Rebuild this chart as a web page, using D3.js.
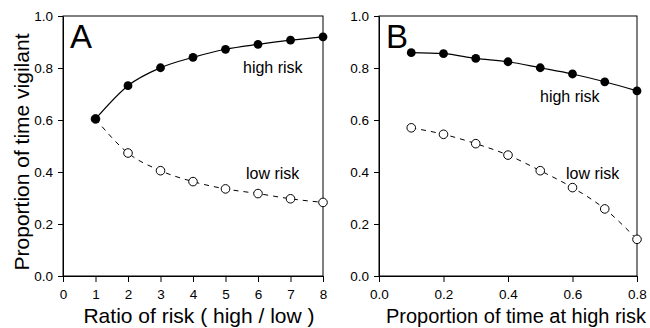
<!DOCTYPE html>
<html>
<head>
<meta charset="utf-8">
<script src="https://cdn.jsdelivr.net/npm/d3@7.9.0/dist/d3.min.js"></script>
<style>
  body { margin: 0; background: #fff; }
  svg text { font-family: Arial, "Liberation Sans", sans-serif; fill: #000; }
</style>
</head>
<body>
<svg id="chart" width="650" height="328"></svg>
<script>
/* ---- data ---- */
const ratioX    = [1, 2, 3, 4, 5, 6, 7, 8];
const ratioHigh = [0.604, 0.732, 0.801, 0.841, 0.872, 0.891, 0.907, 0.920];
const ratioLow  = [0.604, 0.473, 0.405, 0.363, 0.335, 0.317, 0.297, 0.283];

const propX    = [0.1, 0.2, 0.3, 0.4, 0.5, 0.6, 0.7, 0.8];
const propHigh = [0.859, 0.855, 0.837, 0.824, 0.801, 0.777, 0.747, 0.712];
const propLow  = [0.570, 0.545, 0.509, 0.465, 0.405, 0.340, 0.258, 0.141];

const yTicks  = [0, 0.2, 0.4, 0.6, 0.8, 1.0];
const xTicksA = [0, 1, 2, 3, 4, 5, 6, 7, 8];
const xTicksB = [0, 0.2, 0.4, 0.6, 0.8];

const svg = d3.select('#chart');
const plotTop = 16, plotBottom = 276;

const panels = [
  { letter: 'A', left: 63, right: 323, domain: [0, 8], ticks: xTicksA, fmt: d3.format('d'),
    xs: ratioX, high: ratioHigh, low: ratioLow, title: 'Ratio of risk ( high / low )', titleSize: 21,
    hiLab: [243, 73], loLab: [246, 179], showYTitle: true },
  { letter: 'B', left: 379, right: 637, domain: [0, 0.8], ticks: xTicksB, fmt: d3.format('.1f'),
    xs: propX, high: propHigh, low: propLow, title: 'Proportion of time at high risk', titleSize: 20,
    hiLab: [540, 102], loLab: [566, 179], showYTitle: false }
];

const y = d3.scaleLinear().domain([0, 1]).range([plotBottom, plotTop]);

panels.forEach(p => {
  const x = d3.scaleLinear().domain(p.domain).range([p.left, p.right]);
  const g = svg.append('g');

  // frame
  g.append('rect')
    .attr('x', p.left).attr('y', plotTop)
    .attr('width', p.right - p.left).attr('height', plotBottom - plotTop)
    .attr('fill', 'none').attr('stroke', '#000').attr('stroke-width', 1);

  // axes
  const xa = g.append('g')
    .attr('transform', `translate(0,${plotBottom})`)
    .call(d3.axisBottom(x).tickValues(p.ticks).tickFormat(p.fmt).tickSizeInner(6).tickSizeOuter(0).tickPadding(7));
  const ya = g.append('g')
    .attr('transform', `translate(${p.left},0)`)
    .call(d3.axisLeft(y).tickValues(yTicks).tickFormat(d3.format('.1f')).tickSizeInner(5).tickSizeOuter(0).tickPadding(5));
  [xa, ya].forEach(a => {
    a.select('.domain').attr('stroke', '#000');
    a.selectAll('line').attr('stroke', '#000');
    a.selectAll('text').style('font-size', '13.5px').attr('fill', '#000');
  });

  // lines
  const line = d3.line().x(d => x(d[0])).y(d => y(d[1])).curve(d3.curveMonotoneX);
  const hi = p.xs.map((v, i) => [v, p.high[i]]);
  const lo = p.xs.map((v, i) => [v, p.low[i]]);

  g.append('path').attr('d', line(lo))
    .attr('fill', 'none').attr('stroke', '#000').attr('stroke-width', 1)
    .attr('stroke-dasharray', '5,5');
  g.append('path').attr('d', line(hi))
    .attr('fill', 'none').attr('stroke', '#000').attr('stroke-width', 1.2);

  g.selectAll('circle.lo').data(lo).join('circle')
    .attr('class', 'lo')
    .attr('cx', d => x(d[0])).attr('cy', d => y(d[1])).attr('r', 4.3)
    .attr('fill', '#fff').attr('stroke', '#000').attr('stroke-width', 1);
  g.selectAll('circle.hi').data(hi).join('circle')
    .attr('class', 'hi')
    .attr('cx', d => x(d[0])).attr('cy', d => y(d[1])).attr('r', 4.4)
    .attr('fill', '#000');

  // labels
  g.append('text').attr('x', p.left + 7).attr('y', 48)
    .style('font-size', '33px').text(p.letter);
  g.append('text').attr('x', p.hiLab[0]).attr('y', p.hiLab[1])
    .style('font-size', '16px').text('high risk');
  g.append('text').attr('x', p.loLab[0]).attr('y', p.loLab[1])
    .style('font-size', '16px').text('low risk');

  g.append('text')
    .attr('x', (p.left + p.right) / 2 + (p.showYTitle ? 6 : 8)).attr('y', 322.5)
    .attr('text-anchor', 'middle').style('font-size', p.titleSize + 'px').text(p.title);

  if (p.showYTitle) {
    g.append('text')
      .attr('transform', `translate(29,${(plotTop + plotBottom) / 2 + 6}) rotate(-90)`)
      .attr('text-anchor', 'middle').style('font-size', '21px').text('Proportion of time vigilant');
  }
});
</script>
</body>
</html>
